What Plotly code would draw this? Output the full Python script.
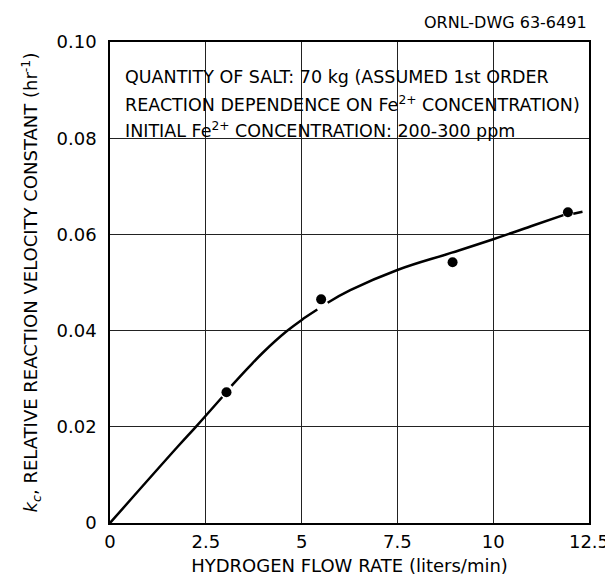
import plotly.graph_objects as go

# Measured data points
flow_rate = [3.04, 5.51, 8.94, 11.95]
kc = [0.0272, 0.0465, 0.0542, 0.0646]

# Hand-drawn fitted curve (segments separated by gaps near the markers)
curve_x = [0, 1.77, 2.24, 2.93, None, 3.17, 3.61, 4.0, 4.6, 5.07, 5.41, None,
           5.68, 6.27, 7.5, 8.92, 10.0, 11.06, 11.83, None, 12.09, 12.33]
curve_y = [0, 0.0159, 0.0200, 0.0262, None, 0.0285, 0.0323, 0.0355, 0.0398, 0.0426, 0.0444, None,
           0.0458, 0.0484, 0.0526, 0.0562, 0.0590, 0.0619, 0.0640, None, 0.0643, 0.0647]

x_ticks = [0, 2.5, 5, 7.5, 10, 12.5]
x_labels = ["0", "2.5", "5", "7.5", "10", "12.5"]
y_ticks = [0, 0.02, 0.04, 0.06, 0.08, 0.10]
y_labels = ["0", "0.02", "0.04", "0.06", "0.08", "0.10"]

note_lines = [
    "QUANTITY OF SALT: 70 kg (ASSUMED 1st ORDER",
    "REACTION DEPENDENCE ON Fe<sup>2+</sup> CONCENTRATION)",
    "INITIAL Fe<sup>2+</sup> CONCENTRATION: 200-300 ppm",
]
note_y = [0.927, 0.872, 0.817]

FONT = "DejaVu Sans"

fig = go.Figure()
fig.add_trace(go.Scatter(x=curve_x, y=curve_y, mode="lines",
                         line=dict(color="black", width=2.5, shape="spline", smoothing=1.2),
                         connectgaps=False, hoverinfo="skip", showlegend=False))
fig.add_trace(go.Scatter(x=flow_rate, y=kc, mode="markers", marker=dict(color="black", size=10),
                         showlegend=False))

for line, yy in zip(note_lines, note_y):
    fig.add_annotation(text=line, xref="paper", yref="paper", x=0.028, y=yy,
                       xanchor="left", yanchor="middle", showarrow=False,
                       font=dict(family=FONT, size=17.5, color="black"))

fig.add_annotation(text="ORNL-DWG 63-6491", xref="paper", yref="paper", x=1.0, y=1.04,
                   xanchor="right", yanchor="middle", showarrow=False,
                   font=dict(family=FONT, size=16, color="black"))

axis_common = dict(showgrid=True, gridcolor="#222", gridwidth=1, zeroline=False,
                   showline=True, linecolor="black", linewidth=1.5, mirror=True, ticks="",
                   tickfont=dict(family=FONT, size=18, color="black"))

fig.update_xaxes(range=[0, 12.5], tickvals=x_ticks, ticktext=x_labels, ticklabelstandoff=2,
                 title=dict(text="HYDROGEN FLOW RATE (liters/min)", font=dict(family=FONT, size=18, color="black"), standoff=8),
                 **axis_common)
fig.update_yaxes(range=[0, 0.10], tickvals=y_ticks, ticktext=y_labels, ticklabelstandoff=8,
                 title=dict(text="<i>k</i><sub><i>c</i></sub>, RELATIVE REACTION VELOCITY CONSTANT (hr<sup>-1</sup>)",
                            font=dict(family=FONT, size=18, color="black"), standoff=14),
                 **axis_common)

fig.update_layout(width=613, height=577, margin=dict(l=102, r=23, t=34, b=62, pad=0),
                  paper_bgcolor="white", plot_bgcolor="white", font=dict(family=FONT, color="black"))

fig.write_html("out.html")
